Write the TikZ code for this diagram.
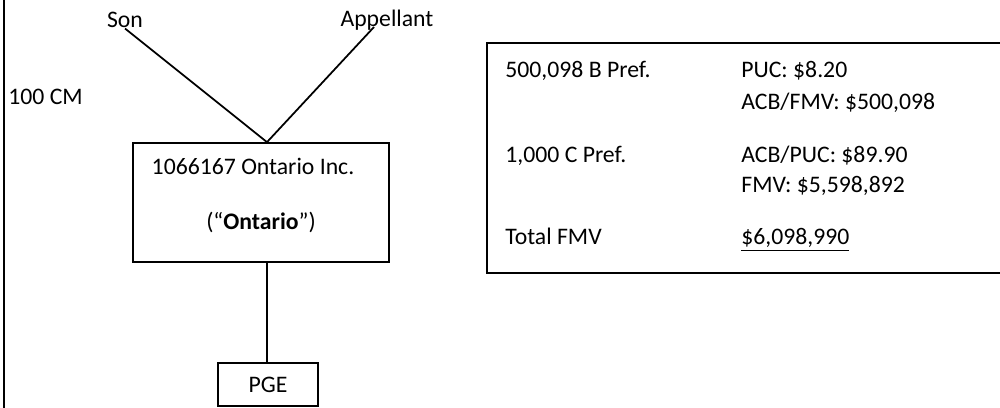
\documentclass[tikz,border=0pt]{standalone}
\usepackage{fontspec}
\setmainfont{Carlito}
\begin{document}
\begin{tikzpicture}[x=0.02cm, y=-0.02cm,
    txt/.style={inner sep=0pt, font=\fontsize{13.5}{16}\selectfont},
    box/.style={draw, line width=1pt, inner sep=0pt, font=\fontsize{13.5}{16}\selectfont},
    link/.style={line width=1pt}]
    \useasboundingbox (0, 0) rectangle (1000, 408);

    % linker Rand
    \draw[link] (4, -5) -- (4, 413);
    \node[txt, anchor=base west] (cm) at (8, 105) {100 CM};

    % Aktionaere
    \node[txt, anchor=base] (son) at (125, 28) {Son};
    \node[txt, anchor=base] (appellant) at (387, 27) {Appellant};

    % Gesellschaften
    \node[box, minimum width=5.12cm, minimum height=2.38cm] (ontario) at (261, 202.5) {};
    \node[txt, anchor=base] (name) at (253, 175) {1066167 Ontario Inc.};
    \node[txt, anchor=base] (short) at (261, 230) {(“\textbf{Ontario}”)};
    \node[box, minimum width=2cm, minimum height=0.86cm] (pge) at (268, 384.5) {PGE};

    \draw[link] (son.south) -- ([xshift=0.12cm]ontario.north);
    \draw[link] ([xshift=-0.26cm]appellant.base) -- ([xshift=0.12cm]ontario.north);
    \draw[link] ([xshift=0.12cm]ontario.south) -- ([xshift=-0.02cm]pge.north);

    % Tabelle der Vorzugsaktien
    \draw[link] (487, 43) rectangle (1010, 273);
    \node[txt, anchor=base west] (bpref) at (505, 78) {500,098 B Pref.};
    \node[txt, anchor=base west] (bpuc) at (741, 78) {PUC: \$8.20};
    \node[txt, anchor=base west] (bacb) at (741, 110) {ACB/FMV: \$500,098};
    \node[txt, anchor=base west] (cpref) at (505, 163) {1,000 C Pref.};
    \node[txt, anchor=base west] (cacb) at (741, 163) {ACB/PUC: \$89.90};
    \node[txt, anchor=base west] (cfmv) at (741, 193) {FMV: \$5,598,892};
    \node[txt, anchor=base west] (total) at (505, 245) {Total FMV};
    \node[txt, anchor=base west] (totalv) at (741, 245) {\underline{\$6,098,990}};
\end{tikzpicture}
\end{document}
